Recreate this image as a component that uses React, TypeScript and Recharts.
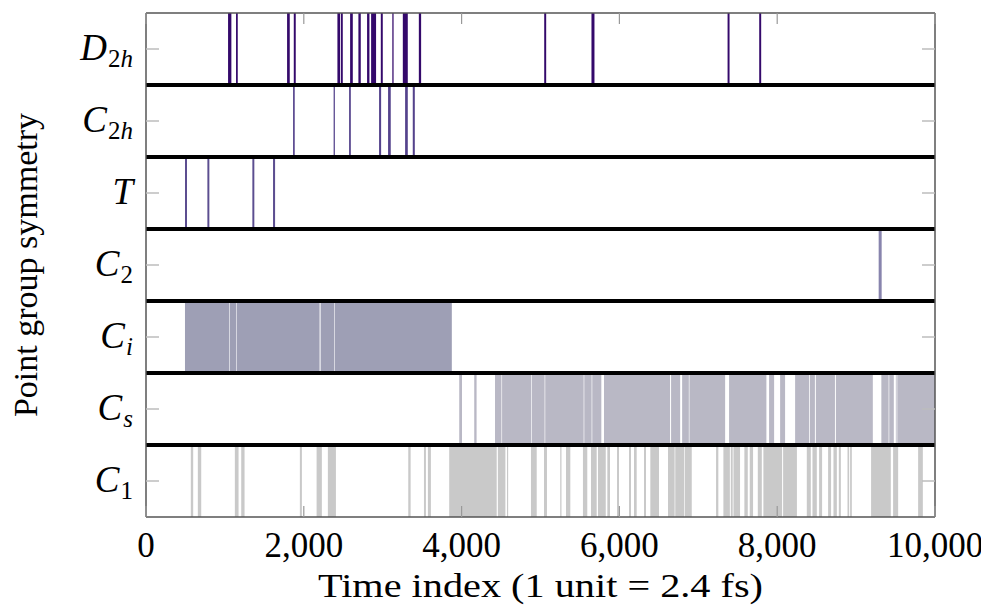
import React from "react";
import { ComposedChart, XAxis, YAxis, ReferenceArea, ReferenceLine, Label } from "recharts";

// rows listed bottom -> top
const rowMain = ["C", "C", "C", "C", "T", "C", "D"];
const rowSub = ["1", "s", "i", "2", "", "2h", "2h"];
const rowColors = ["#c9c9c9", "#b9b8c5", "#9e9fb5", "#8884ad", "#5c4e90", "#54428c", "#34096b"];

const xTicks = [0, 2000, 4000, 6000, 8000, 10000];
const yTicks = [0.5, 1.5, 2.5, 3.5, 4.5, 5.5, 6.5];
const separators = [1, 2, 3, 4, 5, 6];

// [start, end] of each run, in time index units
const c1Runs: [number, number][] = [
  [568, 598], [657, 700], [1126, 1173], [1207, 1249], [1950, 1976], [2162, 2229], [2305, 2407],
  [3324, 3354], [3523, 3548], [3573, 3611], [3843, 4445], [4460, 4555], [4575, 4590],
  [4879, 4952], [5044, 5082], [5250, 5266], [5323, 5378], [5538, 5593], [5640, 5712],
  [5729, 5827], [5847, 5881], [5970, 5995], [6122, 6147], [6185, 6219], [6312, 6337],
  [6392, 6502], [6616, 6700], [6708, 6820], [6828, 6917], [7225, 7254], [7318, 7400],
  [7412, 7436], [7446, 7529], [7584, 7627], [7652, 7694], [7754, 7805], [7825, 8062],
  [8075, 8250], [8375, 8426], [8447, 8502], [8531, 8569], [8645, 8683], [8713, 8756],
  [8781, 8807], [8891, 8912], [8924, 8946], [9190, 9440], [9469, 9533], [9786, 9846],
];
const csRuns: [number, number][] = [
  [3970, 4005], [4160, 4190], [4423, 4505], [4513, 4882], [4890, 5052], [5060, 5547],
  [5555, 5648], [5656, 5771], [5805, 6642], [6655, 6770], [6795, 6880], [6888, 7340],
  [7390, 7863], [7897, 7961], [8037, 8100], [8227, 8406], [8416, 8478], [8490, 8732],
  [8744, 9212], [9320, 9412], [9420, 9478], [9504, 9514], [9522, 10000],
];
const ciRuns: [number, number][] = [
  [494, 1054], [1061, 1142], [1149, 2200], [2213, 2384], [2391, 3876],
];
const c2Runs: [number, number][] = [[9286, 9324]];
const tRuns: [number, number][] = [[494, 520], [778, 803], [1348, 1373], [1610, 1636]];
const c2hRuns: [number, number][] = [
  [1864, 1885], [2378, 2394], [2574, 2596], [2954, 2980], [3068, 3102], [3284, 3318], [3381, 3407],
];
const d2hRuns: [number, number][] = [
  [1040, 1082], [1141, 1163], [1788, 1822], [1873, 1898], [2426, 2460], [2470, 2494],
  [2587, 2621], [2692, 2722], [2802, 2832], [2853, 2916], [2976, 3001], [3122, 3138],
  [3255, 3318], [3458, 3487], [5047, 5072], [5646, 5684], [7371, 7396], [7772, 7797],
];

const rowRuns = [c1Runs, csRuns, ciRuns, c2Runs, tRuns, c2hRuns, d2hRuns];

// corner points only, so both axes have a data domain to work with
const extent = [
  { x: 0, y: 0 },
  { x: 10000, y: 7 },
];

const FONT = "'Liberation Serif', 'Times New Roman', serif";
const TICK_GRAY = "#bdbdbd";
const FRAME = "#555";

const LeftTick = ({ x, y, payload }: any) => {
  const i = Math.floor(payload.value);
  const sub = rowSub[i];
  const upright = (c: string) => /[0-9]/.test(c);
  return (
    <g>
      <line x1={x} x2={x + 13} y1={y} y2={y} stroke={TICK_GRAY} strokeWidth={1.5} />
      <text x={x - 13} y={y + 11} textAnchor="end" fontFamily={FONT} fontStyle="italic" fontSize={37} fill="#000">
        {rowMain[i]}
        {sub.split("").map((c, k) => (
          <tspan key={k} fontSize={25} dx={k === 0 ? 1 : 0} dy={k === 0 ? 7 : 0} fontStyle={upright(c) ? "normal" : "italic"}>
            {c}
          </tspan>
        ))}
      </text>
    </g>
  );
};

const RightTick = ({ x, y }: any) => (
  <line x1={x - 13} x2={x} y1={y} y2={y} stroke={TICK_GRAY} strokeWidth={1.5} />
);

const BottomTick = ({ x, y, payload }: any) => (
  <g>
    <line x1={x} x2={x} y1={y} y2={y - 11} stroke="#999" strokeWidth={1.2} />
    <text x={x} y={y + 40} textAnchor="middle" fontFamily={FONT} fontSize={35} fill="#000">
      {payload.value.toLocaleString("en-US")}
    </text>
  </g>
);

const TopTick = ({ x, y }: any) => (
  <line x1={x} x2={x} y1={y} y2={y + 11} stroke="#999" strokeWidth={1.2} />
);

export default function App() {
  return (
    <div style={{ width: 981, height: 600, background: "#fff" }}>
      <ComposedChart width={981} height={600} data={extent} margin={{ top: 4, right: 0, bottom: 0, left: 0 }}>
        <XAxis
          dataKey="x"
          type="number"
          domain={[0, 10000]}
          ticks={xTicks}
          interval={0}
          height={91}
          tickSize={0}
          tickMargin={0}
          tickLine={false}
          axisLine={{ stroke: FRAME, strokeWidth: 1.3 }}
          tick={<BottomTick />}
        >
          <Label
            content={({ viewBox }: any) => (
              <text
                x={viewBox.x + viewBox.width / 2}
                y={viewBox.y + 80}
                textAnchor="middle"
                fontFamily={FONT}
                fontSize={34}
                textLength={445}
                lengthAdjust="spacingAndGlyphs"
                fill="#000"
              >
                Time index (1 unit = 2.4 fs)
              </text>
            )}
          />
        </XAxis>
        <XAxis
          xAxisId="top"
          orientation="top"
          dataKey="x"
          type="number"
          domain={[0, 10000]}
          ticks={xTicks}
          interval={0}
          height={1}
          tickSize={0}
          tickMargin={0}
          tickLine={false}
          axisLine={{ stroke: FRAME, strokeWidth: 1.3 }}
          tick={<TopTick />}
        />
        <YAxis
          dataKey="y"
          type="number"
          domain={[0, 7]}
          ticks={yTicks}
          interval={0}
          width={138}
          tickSize={0}
          tickMargin={0}
          tickLine={false}
          axisLine={{ stroke: FRAME, strokeWidth: 1.5 }}
          tick={<LeftTick />}
        >
          <Label
            content={({ viewBox }: any) => {
              const cx = viewBox.x + 29;
              const cy = viewBox.y + viewBox.height / 2;
              return (
                <text
                  x={cx}
                  y={cy}
                  transform={`rotate(-90 ${cx} ${cy})`}
                  textAnchor="middle"
                  fontFamily={FONT}
                  fontSize={34}
                  fill="#000"
                >
                  Point group symmetry
                </text>
              );
            }}
          />
        </YAxis>
        <YAxis
          yAxisId="right"
          orientation="right"
          dataKey="y"
          type="number"
          domain={[0, 7]}
          ticks={yTicks}
          interval={0}
          width={54}
          tickSize={0}
          tickMargin={0}
          tickLine={false}
          axisLine={{ stroke: FRAME, strokeWidth: 1.5 }}
          tick={<RightTick />}
        />
        {rowRuns.map((runs, i) =>
          runs.map(([a, b], k) => (
            <ReferenceArea
              key={`r${i}-${k}`}
              x1={a}
              x2={b}
              y1={i}
              y2={i + 1}
              fill={rowColors[i]}
              fillOpacity={1}
              stroke="none"
              ifOverflow="visible"
            />
          ))
        )}
        {separators.map((s) => (
          <ReferenceLine key={`s${s}`} y={s} stroke="#000" strokeWidth={4} />
        ))}
      </ComposedChart>
    </div>
  );
}
